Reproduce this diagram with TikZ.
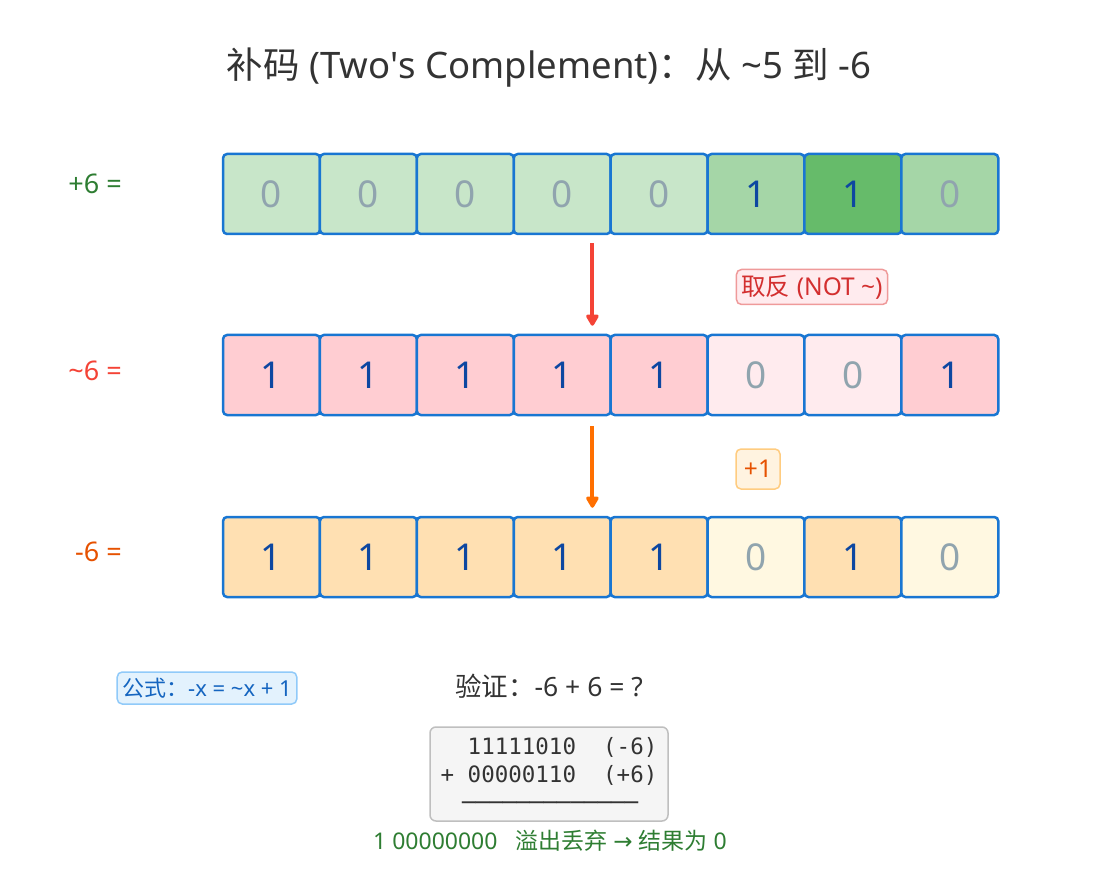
\documentclass[tikz,border=0pt]{standalone}
\usepackage{fontspec}
\setmainfont{Noto Sans}
\newfontfamily\cjk{Noto Sans CJK SC}
\newfontfamily\symfont{DejaVu Sans}
\newfontfamily\codefont{DejaVu Sans Mono}
\usetikzlibrary{positioning,arrows.meta}
\definecolor{cellblue}{HTML}{1976D2}
\definecolor{darktext}{HTML}{333333}
\definecolor{zerogray}{HTML}{90A4AE}
\definecolor{onenavy}{HTML}{0D47A1}
\definecolor{posa}{HTML}{C8E6C9}
\definecolor{posb}{HTML}{A5D6A7}
\definecolor{posc}{HTML}{66BB6A}
\definecolor{nota}{HTML}{FFCDD2}
\definecolor{notb}{HTML}{FFEBEE}
\definecolor{nega}{HTML}{FFE0B2}
\definecolor{negb}{HTML}{FFF8E1}
\definecolor{posgreen}{HTML}{2E7D32}
\definecolor{notred}{HTML}{F44336}
\definecolor{negorange}{HTML}{E65100}
\definecolor{addorange}{HTML}{FF6F00}
\tikzset{
  bit/.style={draw=cellblue, line width=2.5pt, rounded corners=4pt, minimum width=96.9pt,
    minimum height=80pt, inner sep=0pt, font=\fontsize{37}{42}\selectfont},
  bit0/.style={text=zerogray},
  bit1/.style={text=onenavy},
  rowlabel/.style={anchor=east, inner sep=0pt, font=\fontsize{27}{30}\selectfont},
  steparrow/.style={line width=4pt, -{Triangle[length=13pt,width=14pt,round]}},
  tag/.style={rounded corners=5pt, line width=1.5pt, inner xsep=5pt, inner ysep=0pt}
}
\begin{document}
\begin{tikzpicture}[x=1pt, y=-1pt, font=\fontsize{22}{26}\selectfont, text=darktext]
\useasboundingbox (0,0) rectangle (1098,885);
\node(title) [font=\fontsize{36.5}{42}\selectfont] at (549,68)
  {{\cjk 补码} (Two\textquotesingle s Complement){\cjk ：从} \textasciitilde 5 {\cjk 到} -6};
% +6
\foreach \b/\f [count=\i] in {0/posa,0/posa,0/posa,0/posa,0/posa,1/posb,1/posc,0/posb}
  \node(p\i) [bit, bit\b, fill=\f] at ({271.5+(\i-1)*96.9},194) {\b};
% ~6
\foreach \b/\f [count=\i] in {1/nota,1/nota,1/nota,1/nota,1/nota,0/notb,0/notb,1/nota}
  \node(n\i) [bit, bit\b, fill=\f] at ({271.5+(\i-1)*96.9},375) {\b};
% -6
\foreach \b/\f [count=\i] in {1/nega,1/nega,1/nega,1/nega,1/nega,0/negb,1/nega,0/negb}
  \node(m\i) [bit, bit\b, fill=\f] at ({271.5+(\i-1)*96.9},557) {\b};
\node(plabel) [rowlabel, text=posgreen] at (122,184) {+6 =};
\node(nlabel) [rowlabel, text=notred] at (122,371) {\textasciitilde 6 =};
\node(mlabel) [rowlabel, text=negorange] at (122,552) {-6 =};
% steps
\coordinate(s1) at ([shift={(-17,8)}]p5.south west);
\coordinate(e1) at ([shift={(-17,-8)}]n5.north west);
\coordinate(s2) at ([shift={(-17,10)}]n5.south west);
\coordinate(e2) at ([shift={(-17,-8)}]m5.north west);
\draw[steparrow, draw=notred, fill=notred] (s1) -- (e1);
\draw[steparrow, draw=addorange, fill=addorange] (s2) -- (e2);
\node(nottag) [tag, draw={rgb,255:red,239;green,154;blue,154}, fill=notb, text={rgb,255:red,211;green,47;blue,47},
  minimum height=35pt, font=\fontsize{24.5}{28}\selectfont] at (812,287) {{\cjk 取反} (NOT \textasciitilde)};
\node(addtag) [tag, draw={rgb,255:red,255;green,204;blue,128}, fill={rgb,255:red,255;green,243;blue,224},
  text=negorange, minimum width=44pt, minimum height=40pt, font=\fontsize{24.5}{28}\selectfont] at (758,469) {+1};
% bottom
\node(formula) [tag, draw={rgb,255:red,144;green,202;blue,249}, fill={rgb,255:red,227;green,242;blue,253},
  text={rgb,255:red,21;green,101;blue,192}, minimum height=32pt, inner xsep=5pt, font=\fontsize{22}{26}\selectfont]
  at (207,688) {{\cjk 公式：}-x = \textasciitilde x + 1};
\node(check) [font=\fontsize{26.5}{30}\selectfont] at (549,686) {{\cjk 验证：}-6 + 6 = ?};
\node(sum) [draw=black!25, fill=black!4, line width=1.5pt, rounded corners=6pt,
  minimum width=238pt, minimum height=94pt, align=left, inner sep=0pt,
  font=\codefont\fontsize{22.5}{28}\selectfont] at (549,774)
  {~~11111010~~(-6)\\+~00000110~~(+6)\\~\kern8pt─────────────};
\node(result) [text=posgreen, font=\fontsize{23}{27}\selectfont] at (550,841)
  {1 00000000~~~{\cjk 溢出丢弃} {\symfont →} {\cjk 结果为} 0};
\end{tikzpicture}
\end{document}
